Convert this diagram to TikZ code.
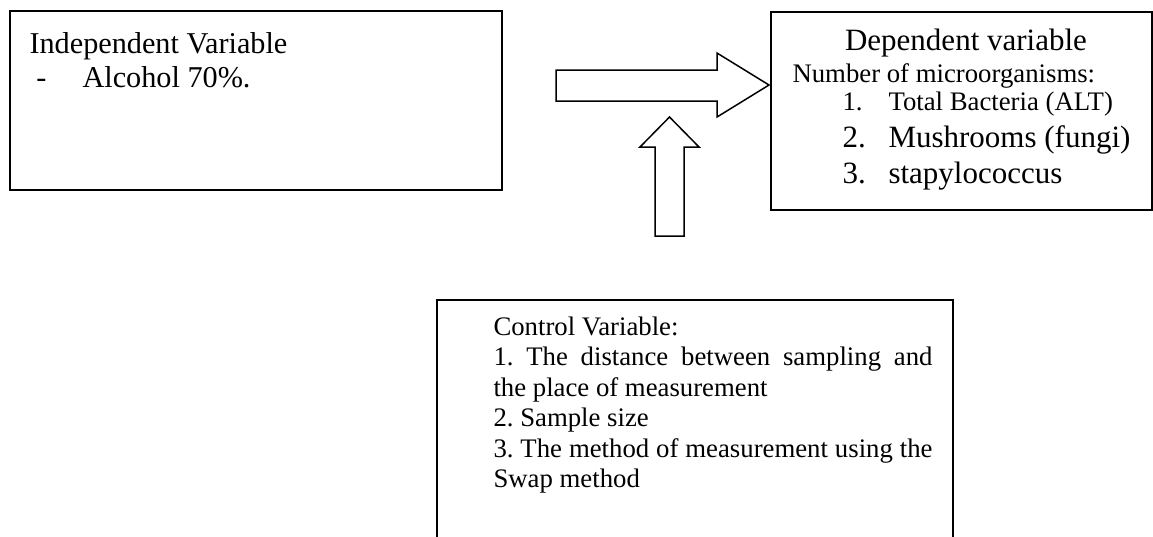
\documentclass[tikz,border=0pt]{standalone}
\usepackage{fontspec}
\setmainfont{Liberation Serif}
\usepackage{tikz}
\frenchspacing

\begin{document}
\begin{tikzpicture}[x=0.4pt, y=-0.4pt,
	box/.style={draw, line width=0.8pt, inner sep=0pt, anchor=north west},
	txt/.style={inner sep=0pt, anchor=base west},
	big/.style={font=\fontsize{12.4}{14}\selectfont},
	mid/.style={font=\fontsize{12.1}{14}\selectfont},
	small/.style={font=\fontsize{10.7}{12.2}\selectfont},
	fat/.style={draw, line width=0.6pt, line join=miter}]
\useasboundingbox (0,0) rectangle (1153,536);
\node (indep) at (9,10) [box, minimum width=196.8pt, minimum height=71.6pt] {};
	\node (indeptitle) at (29,53) [txt, mid] {Independent Variable};
	\node (dash) at (36,87) [txt, mid] {-};
	\node (alcohol) at (82,87) [txt, mid] {Alcohol 70\%.};
\node (dep) at (770,11) [box, minimum width=152.4pt, minimum height=79.2pt] {};
	\node (deptitle) at (966,50) [txt, big, anchor=base] {Dependent variable};
	\node (number) at (792,82) [txt, small] {Number of microorganisms:};
		\node (n1) at (842,110) [txt, small] {1.};
		\node (bacteria) at (888,110) [txt, small] {Total Bacteria (ALT)};
		\node (n2) at (842,147) [txt, big] {2.};
		\node (fungi) at (888,147) [txt, big] {Mushrooms (fungi)};
		\node (n3) at (842,183) [txt, big] {3.};
		\node (staph) at (888,183) [txt, big] {stapylococcus};
\node (control) at (436,299) [box, minimum width=206.4pt, minimum height=96.4pt] {};
	\node (controltext) at (493,335) [txt, small, text width=175.6pt, align=justify] {Control Variable:\\
1. The distance between sampling and\linebreak the place of measurement\\
2. Sample size\\
3. The method of measurement using the\linebreak Swap method};
% block arrows
\coordinate (htail) at (556,85);
\coordinate (htip) at (769,85);
\coordinate (vtail) at (669.5,236);
\coordinate (vtip) at (669.5,117);
\draw[fat] (htail) ++(0,-15) -- ++(161,0) -- ++(0,-17) -- (htip) -- ++(-52,32) -- ++(0,-16) -- ++(-161,0) -- cycle;
\draw[fat] (vtip) -- ++(29.5,30) -- ++(-15,0) -- (vtail -| 684,0) -- (vtail -| 655,0) -- ++(0,-89) -- ++(-15,0) -- cycle;
\end{tikzpicture}
\end{document}
